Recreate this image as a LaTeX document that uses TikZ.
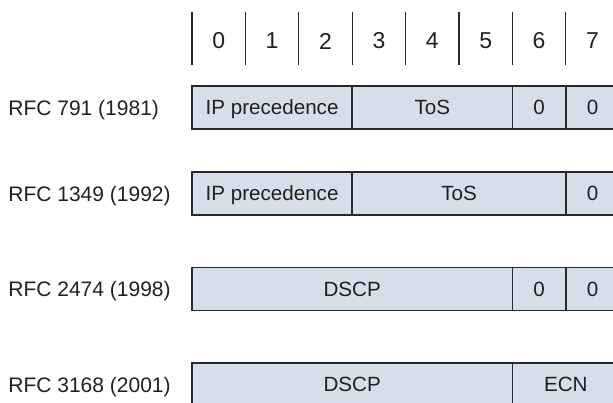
\documentclass[tikz,border=0pt]{standalone}
\usepackage{fontspec}
\setmainfont{Liberation Sans}
\usepackage{tikz}
\usetikzlibrary{positioning}

\definecolor{boxfill}{RGB}{214,222,233}
\definecolor{boxline}{RGB}{40,40,40}
\definecolor{inkgray}{RGB}{35,31,32}
\def\bitw{26.7pt}

\begin{document}
\begin{tikzpicture}[x=0.5pt,y=-0.5pt,
        field/.style={draw=boxline,fill=boxfill,line width=0.8pt,minimum height=21.5pt,
          inner sep=0pt,outer sep=0pt,text height=7.4pt,text depth=0pt,
          text=inkgray,font=\fontsize{10.3}{12}\selectfont},
        rfc/.style={anchor=west,inner sep=0pt,text height=7.5pt,text depth=0pt,
          text=inkgray,font=\fontsize{10.5}{12}\selectfont},
        bitnum/.style={text=inkgray,font=\fontsize{11.5}{13}\selectfont},
        bitbar/.style={draw=boxline,line width=0.65pt}]

  \useasboundingbox (0,0) rectangle (613,402);
  \clip (0,0) rectangle (613,402);

  % bit positions
  \foreach \b in {0,...,7} {
    \draw[bitbar] (192+53.4*\b,12) -- (192+53.4*\b,65);
    \node[bitnum] (bit\b) at (218.7+53.4*\b,41) {\b};
  }

  % RFC 791
  \node[rfc] (rfc791) at (8,107.5) {RFC 791 (1981)};
  \node[field,minimum width=3*\bitw,anchor=west] (prec791) at (192,107.5) {IP precedence};
  \node[field,minimum width=3*\bitw,right=0pt of prec791] (tos791) {ToS};
  \node[field,minimum width=\bitw,right=0pt of tos791] (six791) {0};
  \node[field,minimum width=\bitw,right=0pt of six791] (seven791) {0};

  % RFC 1349
  \node[rfc] (rfc1349) at (8,193.5) {RFC 1349 (1992)};
  \node[field,minimum width=3*\bitw,anchor=west] (prec1349) at (192,193.5) {IP precedence};
  \node[field,minimum width=4*\bitw,right=0pt of prec1349] (tos1349) {ToS};
  \node[field,minimum width=\bitw,right=0pt of tos1349] (seven1349) {0};

  % RFC 2474
  \node[rfc] (rfc2474) at (8,289) {RFC 2474 (1998)};
  \node[field,minimum width=6*\bitw,anchor=west] (dscp2474) at (192,289) {DSCP};
  \node[field,minimum width=\bitw,right=0pt of dscp2474] (six2474) {0};
  \node[field,minimum width=\bitw,right=0pt of six2474] (seven2474) {0};

  % RFC 3168
  \node[rfc] (rfc3168) at (8,384.5) {RFC 3168 (2001)};
  \node[field,minimum width=6*\bitw,anchor=west] (dscp3168) at (192,384.5) {DSCP};
  \node[field,minimum width=2*\bitw,right=0pt of dscp3168] (ecn3168) {ECN};

\end{tikzpicture}
\end{document}
